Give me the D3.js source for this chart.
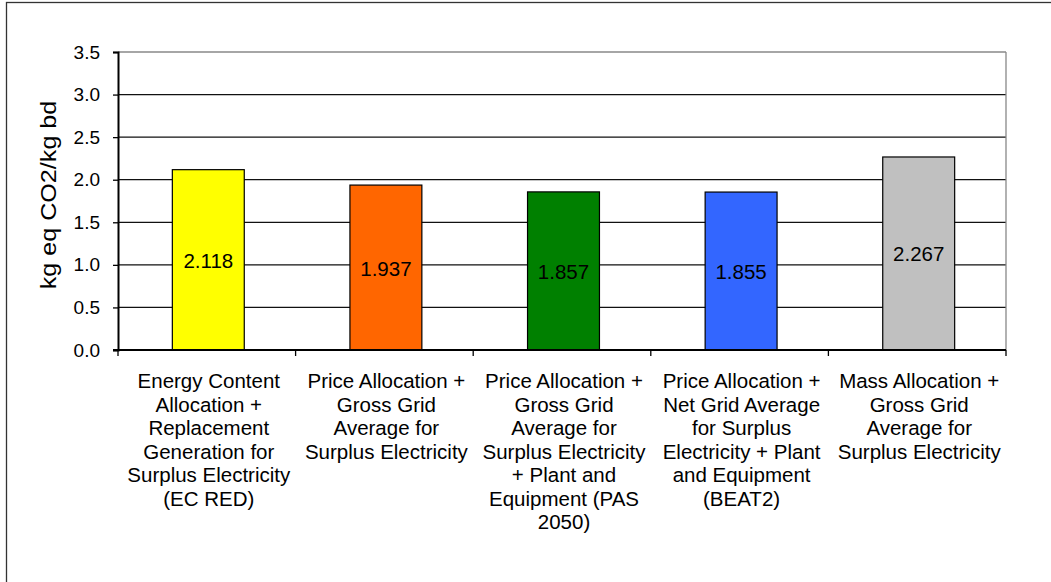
<!DOCTYPE html>
<html>
<head>
<meta charset="utf-8">
<script src="https://cdn.jsdelivr.net/npm/d3@7"></script>
<style>
    body { margin: 0; background: #fff; }
    svg { display: block; font-family: "Liberation Sans", Arial, sans-serif; }
</style>
</head>
<body>
<svg id="chart" width="1051" height="582"></svg>
<script>
// category labels, already wrapped the way the chart shows them
const categories = [
    ["Energy Content", "Allocation +", "Replacement", "Generation for", "Surplus Electricity", "(EC RED)"],
    ["Price Allocation +", "Gross Grid", "Average for", "Surplus Electricity"],
    ["Price Allocation +", "Gross Grid", "Average for", "Surplus Electricity", "+ Plant  and", "Equipment (PAS", "2050)"],
    ["Price Allocation +", "Net Grid Average", "for Surplus", "Electricity + Plant", "and Equipment", "(BEAT2)"],
    ["Mass Allocation +", "Gross Grid", "Average for", "Surplus Electricity"]
];
const values = [2.118, 1.937, 1.857, 1.855, 2.267];
const barColors = ["#FFFF00", "#FF6600", "#008000", "#3366FF", "#C0C0C0"];
const yTicks = [0, 0.5, 1.0, 1.5, 2.0, 2.5, 3.0, 3.5];
const yTitle = "kg eq CO2/kg bd";

const svg = d3.select("#chart");
const plotLeft = 118, plotRight = 1006, plotTop = 52, plotBottom = 350;

// outer chart frame (runs off the right and bottom edge)
svg.append("rect")
    .attr("x", 6.5).attr("y", 2.5)
    .attr("width", 1100).attr("height", 700)
    .attr("fill", "none")
    .attr("stroke", "#333")
    .attr("stroke-width", 1.3);

const x = d3.scaleBand()
    .domain(d3.range(categories.length))
    .range([plotLeft, plotRight])
    .padding(0);

const y = d3.scaleLinear()
    .domain([0, 3.5])
    .range([plotBottom, plotTop]);

// gridlines
svg.append("g")
    .selectAll("line")
    .data(yTicks.filter(t => t > 0))
    .enter().append("line")
    .attr("x1", plotLeft).attr("x2", plotRight)
    .attr("y1", d => y(d)).attr("y2", d => y(d))
    .attr("stroke", d => d === 3.5 ? "#888" : "#111")
    .attr("stroke-width", 1.3);

// right border of plot area
svg.append("line")
    .attr("x1", plotRight).attr("x2", plotRight)
    .attr("y1", y(3.5)).attr("y2", plotBottom)
    .attr("stroke", "#888")
    .attr("stroke-width", 1.3);

// bars
const barW = x.bandwidth() * 0.405;
svg.append("g")
    .selectAll("rect")
    .data(values)
    .enter().append("rect")
    .attr("x", (d, i) => x(i) + x.bandwidth() / 2 - barW / 2 + 1.5)
    .attr("y", d => y(d))
    .attr("width", barW)
    .attr("height", d => plotBottom - y(d))
    .attr("fill", (d, i) => barColors[i])
    .attr("stroke", "#000")
    .attr("stroke-width", 1.2);

// value labels in the middle of each bar
svg.append("g")
    .selectAll("text")
    .data(values)
    .enter().append("text")
    .attr("x", (d, i) => x(i) + x.bandwidth() / 2 + 1.5)
    .attr("y", d => y(d / 2) + 8)
    .attr("text-anchor", "middle")
    .attr("font-size", 20.5)
    .attr("fill", "#000")
    .text(d => d.toFixed(3));

// y axis
const yAxis = svg.append("g")
    .attr("transform", `translate(${plotLeft},0)`)
    .call(d3.axisLeft(y).tickValues(yTicks).tickFormat(d3.format(".1f")).tickSize(5).tickPadding(13));
yAxis.select(".domain").attr("stroke", "#000").attr("stroke-width", 2);
yAxis.selectAll(".tick line").attr("stroke", "#000").attr("stroke-width", 1.3);
yAxis.selectAll(".tick text")
    .attr("font-size", 19)
    .attr("font-family", "'Liberation Sans', Arial, sans-serif")
    .attr("fill", "#000");

// x axis line with ticks at category boundaries
svg.append("line")
    .attr("x1", plotLeft - 5).attr("x2", plotRight)
    .attr("y1", plotBottom).attr("y2", plotBottom)
    .attr("stroke", "#000")
    .attr("stroke-width", 2);
svg.append("g")
    .selectAll("line")
    .data(d3.range(categories.length + 1))
    .enter().append("line")
    .attr("x1", i => plotLeft + i * x.step()).attr("x2", i => plotLeft + i * x.step())
    .attr("y1", plotBottom).attr("y2", plotBottom + 6)
    .attr("stroke", "#000")
    .attr("stroke-width", 1.3);

// category labels
const catText = svg.append("g")
    .selectAll("text")
    .data(categories)
    .enter().append("text")
    .attr("text-anchor", "middle")
    .attr("font-size", 20.5)
    .attr("fill", "#000");
catText.selectAll("tspan")
    .data((d, i) => d.map(line => ({ line, i })))
    .enter().append("tspan")
    .attr("x", d => x(d.i) + x.bandwidth() / 2 + 2)
    .attr("y", (d, j) => 388 + j * 23.5)
    .text(d => d.line);

// y axis title (stretched along its length like the source)
svg.append("text")
    .attr("transform", "translate(56,195) rotate(-90) scale(1.17,1)")
    .attr("text-anchor", "middle")
    .attr("font-size", 21.5)
    .attr("fill", "#000")
    .text(yTitle);
</script>
</body>
</html>
